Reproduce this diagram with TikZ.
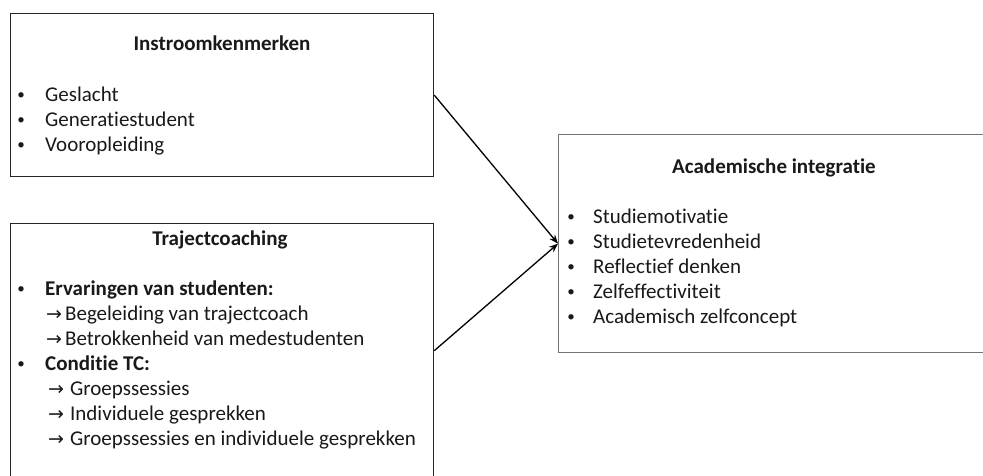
\documentclass[tikz,border=0pt]{standalone}
\usepackage{fontspec}
\setmainfont{Carlito}[Ligatures={NoCommon}, RawFeature={-liga}]
\newfontfamily\arrowfont{DejaVu Sans}
\usetikzlibrary{arrows.meta}
\begin{document}
\begin{tikzpicture}[x=1pt,y=-1pt,
  box/.style={draw=black!85, line width=1.3pt, anchor=north west, inner sep=0pt},
  ttl/.style={font=\bfseries\fontsize{21}{25}\selectfont, anchor=base, inner sep=0pt, text=black!90},
  itm/.style={font=\fontsize{21}{25}\selectfont, anchor=base west, inner sep=0pt, text=black!90},
  bul/.style={font=\fontsize{15}{25}\selectfont, anchor=base, inner sep=0pt, text=black!90},
  conn/.style={line width=1.3pt, -{Stealth[length=9pt,width=7pt]}}]
\useasboundingbox (0,0) rectangle (983,475);
\clip (0,0) rectangle (983,475);
\fill[white] (0,0) rectangle (983,475);

% boxes
\node[box, minimum width=423pt, minimum height=163pt] (in) at (10,13) {};
\node[box, minimum width=423pt, minimum height=254pt] (tc) at (10,223) {};
\node[box, draw=black!55, minimum width=450pt, minimum height=218pt] (ai) at (558,134) {};

% box 1
\node[ttl] (inT) at (222,50) {Instroomkenmerken};
\foreach \t [count=\i] in {Geslacht, Generatiestudent, Vooropleiding} {
  \node[bul] (inB\i) at (21,74+25*\i) {•};
  \node[itm] (inL\i) at (45,76+25*\i) {\t};
}

% box 2
\node[ttl] (tcT) at (220,245) {Trajectcoaching};
\node[bul] (tcB1) at (21,293) {•};
\node[itm, font=\bfseries\fontsize{21}{25}\selectfont] (tcL1) at (45,295) {Ervaringen van studenten:};
\node[itm] (tcL2) at (46,320) {{\arrowfont\fontsize{19}{25}\selectfont →}\hspace{3pt}Begeleiding van trajectcoach};
\node[itm] (tcL3) at (46,345) {{\arrowfont\fontsize{19}{25}\selectfont →}\hspace{3pt}Betrokkenheid van medestudenten};
\node[bul] (tcB2) at (21,368) {•};
\node[itm, font=\bfseries\fontsize{21}{25}\selectfont] (tcL4) at (45,370) {Conditie TC:};
\node[itm] (tcL5) at (48,395) {{\arrowfont\fontsize{19}{25}\selectfont →}\hspace{6pt}Groepssessies};
\node[itm] (tcL6) at (48,420) {{\arrowfont\fontsize{19}{25}\selectfont →}\hspace{6pt}Individuele gesprekken};
\node[itm] (tcL7) at (48,445) {{\arrowfont\fontsize{19}{25}\selectfont →}\hspace{6pt}Groepssessies en individuele gesprekken};

% box 3
\node[ttl] (aiT) at (774,173) {Academische integratie};
\foreach \t [count=\i] in {Studiemotivatie, Studietevredenheid, Reflectief denken, Zelfeffectiviteit, Academisch zelfconcept} {
  \node[bul] (aiB\i) at (571,196+25*\i) {•};
  \node[itm] (aiL\i) at (593,198+25*\i) {\t};
}

% connectors
\draw[conn] (in.east) -- (ai.west);
\draw[conn] (tc.east) -- (ai.west);
\end{tikzpicture}
\end{document}
